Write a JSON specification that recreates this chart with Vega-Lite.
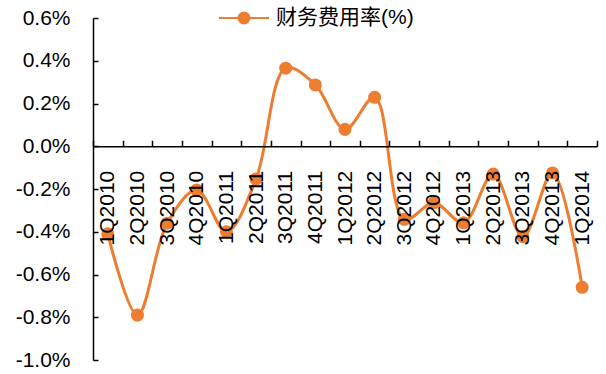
{
  "$schema": "https://vega.github.io/schema/vega-lite/v6.json",
  "width": 504,
  "height": 342,
  "autosize": {"type": "none"},
  "padding": {"left": 93, "top": 18, "right": 9, "bottom": 14},
  "background": "white",
  "config": {"view": {"stroke": null}, "font": "Liberation Sans, Arial, Noto Sans CJK SC"},
  "data": {"values": [
    {"q": "1Q2010", "v": -0.0041, "s": "财务费用率(%)"},
    {"q": "2Q2010", "v": -0.0079, "s": "财务费用率(%)"},
    {"q": "3Q2010", "v": -0.0036, "s": "财务费用率(%)"},
    {"q": "4Q2010", "v": -0.00205, "s": "财务费用率(%)"},
    {"q": "1Q2011", "v": -0.0040, "s": "财务费用率(%)"},
    {"q": "2Q2011", "v": -0.00153, "s": "财务费用率(%)"},
    {"q": "3Q2011", "v": 0.00365, "s": "财务费用率(%)"},
    {"q": "4Q2011", "v": 0.00287, "s": "财务费用率(%)"},
    {"q": "1Q2012", "v": 0.00079, "s": "财务费用率(%)"},
    {"q": "2Q2012", "v": 0.00229, "s": "财务费用率(%)"},
    {"q": "3Q2012", "v": -0.00342, "s": "财务费用率(%)"},
    {"q": "4Q2012", "v": -0.00264, "s": "财务费用率(%)"},
    {"q": "1Q2013", "v": -0.00358, "s": "财务费用率(%)"},
    {"q": "2Q2013", "v": -0.0013, "s": "财务费用率(%)"},
    {"q": "3Q2013", "v": -0.00423, "s": "财务费用率(%)"},
    {"q": "4Q2013", "v": -0.00125, "s": "财务费用率(%)"},
    {"q": "1Q2014", "v": -0.0066, "s": "财务费用率(%)"}
  ]},
  "encoding": {
    "x": {
      "field": "q", "type": "ordinal", "sort": null,
      "scale": {"paddingInner": 0, "paddingOuter": 0},
      "axis": {
        "title": null, "offset": -213.75, "labelAngle": -90, "labelAlign": "right", "labelBaseline": "middle",
        "labelFontSize": 21, "labelColor": "#000", "labelPadding": 30,
        "tickBand": "extent", "tickSize": -6, "tickColor": "#000", "tickWidth": 1.5,
        "domainColor": "#000", "domainWidth": 1.5, "zindex": 1, "grid": false
      }
    },
    "y": {
      "field": "v", "type": "quantitative",
      "scale": {"domain": [-0.01, 0.006], "nice": false, "zero": false},
      "axis": {
        "title": null, "values": [-0.01, -0.008, -0.006, -0.004, -0.002, 0, 0.002, 0.004, 0.006],
        "labelExpr": "(datum.value < -0.00001 ? '-' : '') + format(abs(datum.value), '.1%')",
        "labelFontSize": 21, "labelColor": "#000", "labelPadding": 28,
        "tickSize": -5, "tickColor": "#000", "tickWidth": 1.5,
        "domainColor": "#000", "domainWidth": 1.5, "grid": false, "zindex": 1
      }
    },
    "color": {
      "field": "s", "type": "nominal",
      "scale": {"range": ["#ED7D31"]},
      "legend": {
        "title": null, "orient": "none", "legendX": 125, "legendY": -26,
        "symbolType": "M-1,0H-0.22M0.22,0H1M-0.22,0A0.22,0.22 0 1,0 0.22,0A0.22,0.22 0 1,0 -0.22,0Z",
        "symbolSize": 2500, "symbolStrokeWidth": 2, "symbolFillColor": "#ED7D31", "symbolStrokeColor": "#ED7D31",
        "symbolOpacity": 1,
        "labelFontSize": 21, "labelColor": "#000", "labelOffset": 6
      }
    }
  },
  "layer": [
    {"mark": {"type": "line", "interpolate": "catmull-rom", "strokeWidth": 3}},
    {"mark": {"type": "point", "filled": true, "size": 170, "opacity": 1}}
  ]
}
